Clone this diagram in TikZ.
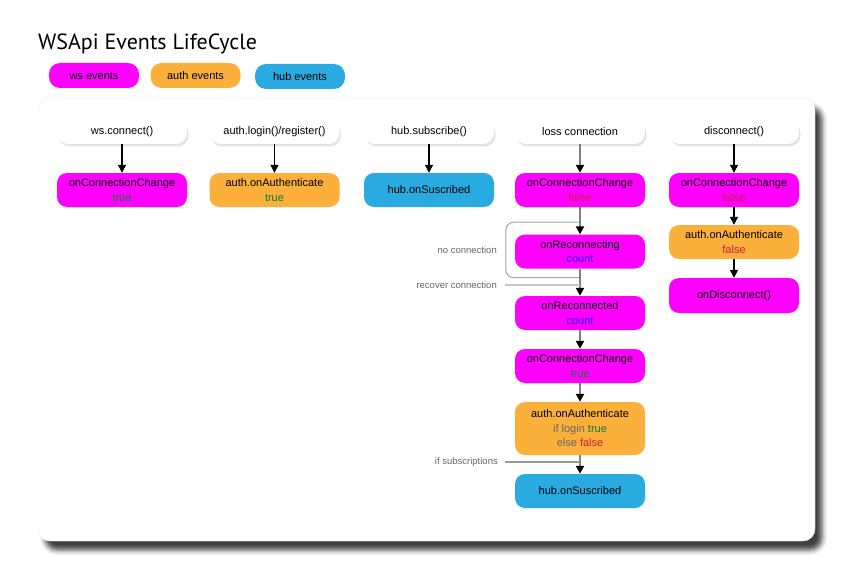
\documentclass[tikz,border=0pt]{standalone}
\usepackage{fontspec}
\setmainfont{Liberation Sans}
\newfontfamily\titlefont{PT Sans}
\usetikzlibrary{arrows.meta,shadows,shadows.blur}

\definecolor{wsmag}{HTML}{FF00FF}
\definecolor{authorange}{HTML}{FBB03B}
\definecolor{hubblue}{HTML}{29ABE2}
\definecolor{truegreen}{HTML}{0B7A2E}
\definecolor{falsered}{HTML}{C8203A}
\definecolor{countblue}{HTML}{1D1DFF}
\definecolor{notegray}{HTML}{666666}
\definecolor{linegray}{HTML}{808080}

\begin{document}
\begin{tikzpicture}[x=1pt, y=-1pt,
    event/.style={rounded corners=10pt, minimum width=130pt, minimum height=34pt,
      align=center, inner sep=2pt, font=\fontsize{11}{14.5}\selectfont},
    ws/.style={event, fill=wsmag},
    auth/.style={event, fill=authorange},
    hub/.style={event, fill=hubblue},
    call/.style={event, fill=white, minimum height=24pt, rounded corners=11pt,
      drop shadow={opacity=0.22, shadow xshift=1.5pt, shadow yshift=-2.5pt}},
    legend/.style={rounded corners=11pt, minimum width=90pt, minimum height=25pt,
      inner sep=0pt, font=\fontsize{11}{13}\selectfont},
    flow/.style={black, line width=1.2pt, -{Triangle[width=8pt,length=8pt]}},
    flowgray/.style={draw=linegray, line width=2pt, -{Triangle[width=8pt,length=8pt,color=black]}},
    note/.style={text=notegray, anchor=east, inner sep=1pt, font=\fontsize{9.5}{11}\selectfont},
  ]
    \useasboundingbox (0,0) rectangle (851,583);

    % Columns
    \pgfmathsetmacro{\colA}{122}
    \pgfmathsetmacro{\colB}{274.5}
    \pgfmathsetmacro{\colC}{429}
    \pgfmathsetmacro{\colD}{580}
    \pgfmathsetmacro{\colE}{734}

    % Title and legend
    \node[anchor=base west, inner sep=0pt, font=\titlefont\fontsize{22}{26}\selectfont] (title) at (38,50) {WSApi Events LifeCycle};
    \node[legend, fill=wsmag] (legWs) at (94,75.5) {ws events};
    \node[legend, fill=authorange] (legAuth) at (195.5,75.5) {auth events};
    \node[legend, fill=hubblue] (legHub) at (300,76.5) {hub events};

    % Panel
    \fill[white, rounded corners=12pt, draw=black!8,
      blur shadow={shadow xshift=7pt, shadow yshift=-9pt, shadow opacity=75, shadow blur radius=5pt}]
      (38,98) rectangle (815,541);

    % Calls
    \node[call] (wsConnect) at (\colA,132) {ws.connect()};
    \node[call] (authLogin) at (\colB,132) {auth.login()/register()};
    \node[call] (hubSubscribe) at (\colC,132) {hub.subscribe()};
    \node[call] (lossConn) at (\colD,132) {loss connection};
    \node[call] (discCall) at (\colE,132) {disconnect()};

    % First events
    \node[ws] (wsChange) at (\colA,190) {onConnectionChange\\\textcolor{truegreen}{true}};
    \node[auth] (authOk) at (\colB,190) {auth.onAuthenticate\\\textcolor{truegreen}{true}};
    \node[hub] (hubSub) at (\colC,190) {hub.onSuscribed};
    \node[ws] (lossChange) at (\colD,190) {onConnectionChange\\\textcolor{falsered}{false}};
    \node[ws] (discChange) at (\colE,190) {onConnectionChange\\\textcolor{falsered}{false}};

    \draw[flow] (wsConnect) -- (wsChange);
    \draw[flow] (authLogin) -- (authOk);
    \draw[flow] (hubSubscribe) -- (hubSub);
    \draw[flowgray] (lossConn) -- (lossChange);
    \draw[flow] (discCall) -- (discChange);

    % Loss of connection
    \node[ws] (reconnecting) at (\colD,251.5) {onReconnecting\\\textcolor{countblue}{count}};
    \node[ws] (reconnected) at (\colD,313) {onReconnected\\\textcolor{countblue}{count}};
    \node[ws] (backChange) at (\colD,366) {onConnectionChange\\\textcolor{truegreen}{true}};
    \node[auth, minimum height=53pt] (backAuth) at (\colD,428.5)
      {auth.onAuthenticate\\\textcolor{notegray}{if login} \textcolor{truegreen}{true}\\\textcolor{notegray}{else} \textcolor{falsered}{false}};
    \node[hub] (backHub) at (\colD,491) {hub.onSuscribed};

    \draw[black!35, line width=1pt, rounded corners=8pt]
      ([yshift=-15pt]lossChange.south) -| ([xshift=-9pt,yshift=-9pt]reconnecting.south west)
      -- ([yshift=-9pt]reconnecting.south);
    \draw[flowgray] (lossChange) -- (reconnecting);
    \draw[flowgray] (reconnecting) -- (reconnected);
    \draw[flowgray] (reconnected) -- (backChange);
    \draw[flowgray] (backChange) -- (backAuth);
    \draw[flowgray] (backAuth) -- (backHub);

    \node[note] (noConn) at (498,250) {no connection};
    \node[note] (recoverConn) at (498,285) {recover connection};
    \node[note] (ifSubs) at (499,462) {if subscriptions};
    \draw[black!22, line width=2pt] ([xshift=7pt]recoverConn.east) -- (recoverConn.east -| lossChange);
    \draw[black!40, line width=1.2pt] ([xshift=6pt]ifSubs.east) -- (ifSubs.east -| lossChange);

    % Disconnect
    \node[auth] (discAuth) at (\colE,242) {auth.onAuthenticate\\\textcolor{falsered}{false}};
    \node[ws, minimum height=35pt] (discEnd) at (\colE,295.5) {onDisconnect()};
    \draw[flow] (discChange) -- (discAuth);
    \draw[flow] (discAuth) -- (discEnd);
\end{tikzpicture}
\end{document}
